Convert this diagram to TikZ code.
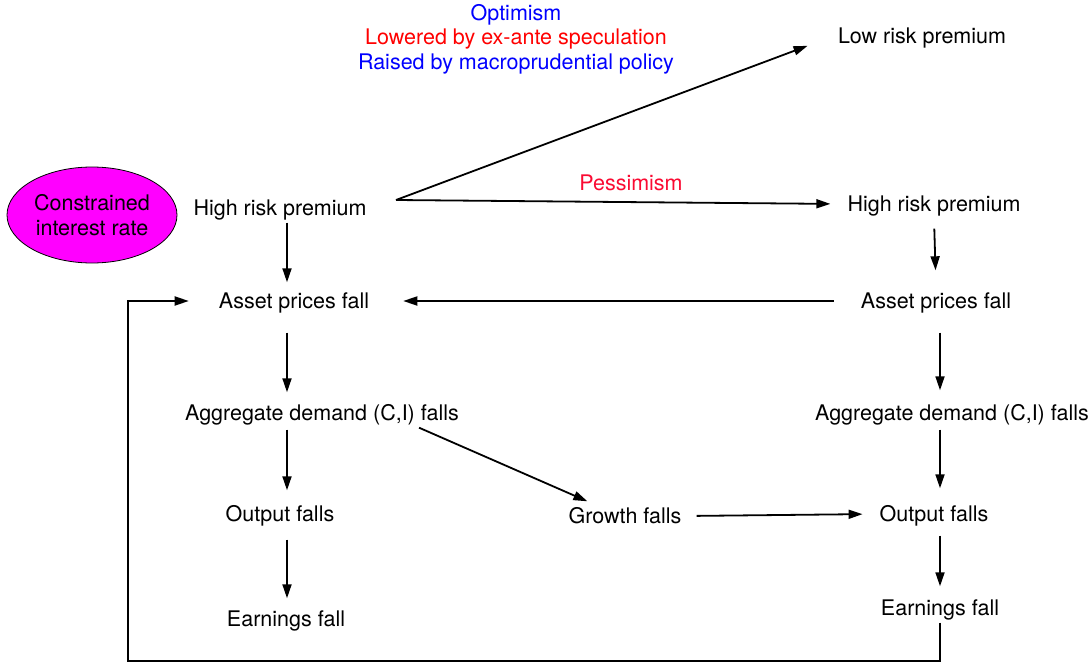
\documentclass[tikz,border=0pt]{standalone}
\usepackage{fontspec}
\setmainfont{TeX Gyre Heros}
\usetikzlibrary{arrows.meta,shapes.geometric}

\definecolor{pessred}{RGB}{250,10,50}
\definecolor{cirmag}{RGB}{255,0,255}

\begin{document}
\begin{tikzpicture}[x=1pt,y=-1pt,
  lbl/.style={font=\fontsize{21.5}{24.5}\selectfont, text height=18pt, text depth=3pt, inner sep=4pt},
  arr/.style={line width=1.8pt, -{Triangle[length=14pt,width=9pt]}}]

\useasboundingbox (0,0) rectangle (1091,663);

% Define arrow columns
\coordinate (xL) at (287,0);
\coordinate (xR) at (940,0);

% Define fork point and loop corner
\coordinate (fork) at (396,200);
\coordinate (loopB) at (128,661);

% Constrained interest rate
\node[ellipse, draw, line width=0.8pt, fill=cirmag, minimum width=170pt, minimum height=96pt,
  inner sep=0pt, align=center, font=\fontsize{21.5}{25}\selectfont] (cir) at (92,215)
  {Constrained\\interest rate};

% Labels over the branches
\node[lbl, text=blue] (opt) at (516,13) {Optimism};
\node[lbl, text=red] (spec) at (516,37) {Lowered by ex-ante speculation};
\node[lbl, text=blue] (macro) at (516,62) {Raised by macroprudential policy};
\node[lbl, text=pessred] (pess) at (631,183) {Pessimism};

% Left column
\node[lbl] (hrpL) at (280,208) {High risk premium};
\node[lbl] (assetL) at (294,301) {Asset prices fall};
\node[lbl] (aggL) at (322,413) {Aggregate demand (C,I) falls};
\node[lbl] (outL) at (280,514) {Output falls};
\node[lbl] (earnL) at (286,619) {Earnings fall};

% Middle
\node[lbl] (growth) at (625,516) {Growth falls};

% Right column
\node[lbl] (lowR) at (922,36) {Low risk premium};
\node[lbl] (hrpR) at (934,204) {High risk premium};
\node[lbl] (assetR) at (936,301) {Asset prices fall};
\node[lbl] (aggR) at (952,413) {Aggregate demand (C,I) falls};
\node[lbl] (outR) at (934,514) {Output falls};
\node[lbl] (earnR) at (940,608) {Earnings fall};

% Fork: optimism and pessimism
\draw[arr, shorten >=28pt] (fork) -- (lowR.west);
\draw[arr, shorten >=13pt] (fork) -- (hrpR.west);

% Left chain
\draw[arr, shorten >=4pt] (hrpL.south -| xL) -- (assetL.north -| xL);
\draw[arr, shorten <=17pt, shorten >=6pt] (assetL.south -| xL) -- (aggL.north -| xL);
\draw[arr, shorten <=2pt, shorten >=9pt] (aggL.south -| xL) -- (outL.north -| xL);
\draw[arr, shorten <=11pt, shorten >=6pt] (outL.south -| xL) -- (earnL.north -| xL);

% Right chain
\draw[arr, shorten <=10pt, shorten >=16pt] (hrpR.south) -- (assetR.north);
\draw[arr, shorten <=17pt, shorten >=8pt] (assetR.south -| xR) -- (aggR.north -| xR);
\draw[arr, shorten <=2pt, shorten >=11pt] (aggR.south -| xR) -- (outR.north -| xR);
\draw[arr, shorten <=7pt, shorten >=7pt] (outR.south -| xR) -- (earnR.north -| xR);

% Cross links
\draw[arr, shorten <=23pt, shorten >=30pt] (assetR.west) -- (assetL.east);
\draw[arr] ([xshift=-44pt]aggL.south east) -- ([xshift=23pt]growth.north west);
\draw[arr, shorten <=11pt, shorten >=13pt] (growth.east) -- (outR.west);

% Feedback loop
\draw[arr, shorten >=26pt] (earnR.south -| xR) |- (loopB) |- (assetL.west);

\end{tikzpicture}
\end{document}
